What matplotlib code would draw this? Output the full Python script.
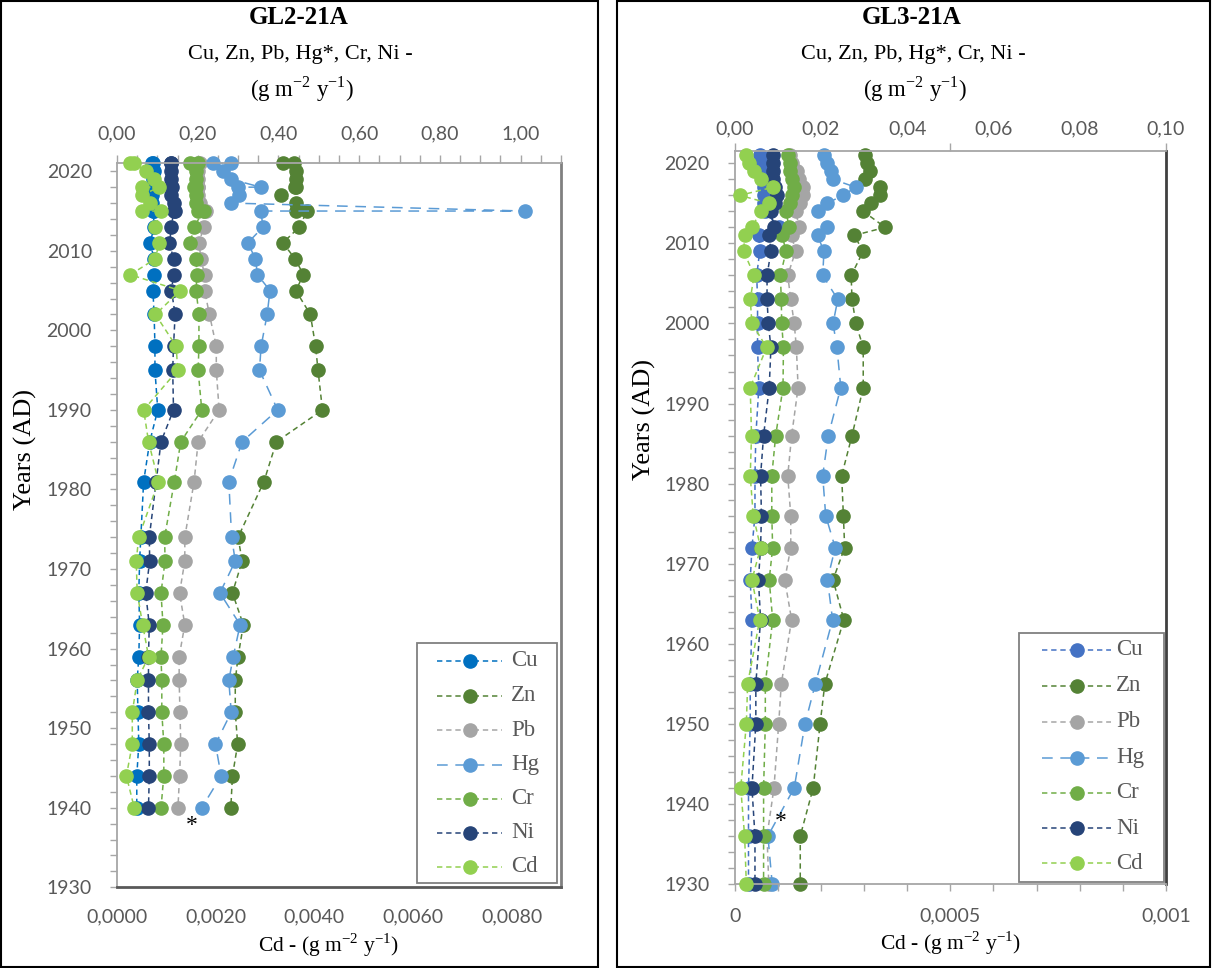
import matplotlib
matplotlib.use('Agg')
import matplotlib.pyplot as plt
from matplotlib.lines import Line2D
from matplotlib.patches import Rectangle
from matplotlib.transforms import Affine2D
from matplotlib.ticker import MultipleLocator, FixedLocator

W, H = 1212, 968

# ---- GL2-21A ----
years_gl2 = [2021, 2021, 2020, 2019, 2018, 2018, 2017, 2016, 2015, 2015, 2013, 2011, 2009, 2007,
             2005, 2002, 1998, 1995, 1990, 1986, 1981, 1974, 1971, 1967, 1963, 1959, 1956, 1952,
             1948, 1944, 1940]
cu_gl2 = [0.087, 0.090, 0.092, 0.090, 0.092, 0.090, 0.087, 0.087, 0.092, 0.090, 0.092, 0.082, 0.092,
          0.092, 0.089, 0.092, 0.094, 0.094, 0.101, 0.081, 0.066, 0.059, 0.056, 0.054, 0.056, 0.054,
          0.050, 0.052, 0.054, 0.049, 0.049]
zn_gl2 = [0.411, 0.438, 0.443, 0.443, 0.443, 0.440, 0.406, 0.443, 0.443, 0.471, 0.452, 0.411, 0.441,
          0.462, 0.443, 0.479, 0.492, 0.498, 0.509, 0.395, 0.364, 0.300, 0.310, 0.286, 0.313, 0.300,
          0.293, 0.293, 0.299, 0.286, 0.282]
pb_gl2 = [0.200, 0.205, 0.200, 0.200, 0.200, 0.200, 0.200, 0.205, 0.215, 0.220, 0.215, 0.203, 0.208,
          0.217, 0.217, 0.229, 0.246, 0.246, 0.253, 0.201, 0.191, 0.168, 0.168, 0.155, 0.168, 0.154,
          0.154, 0.156, 0.158, 0.155, 0.151]
hg_gl2 = [0.237, 0.283, 0.263, 0.283, 0.356, 0.299, 0.303, 0.283, 1.010, 0.356, 0.362, 0.324, 0.343,
          0.348, 0.379, 0.372, 0.357, 0.353, 0.398, 0.310, 0.277, 0.284, 0.293, 0.255, 0.305, 0.288,
          0.277, 0.283, 0.244, 0.258, 0.210]
cr_gl2 = [0.182, 0.200, 0.196, 0.196, 0.190, 0.196, 0.196, 0.196, 0.200, 0.215, 0.190, 0.182, 0.196,
          0.198, 0.196, 0.203, 0.203, 0.201, 0.210, 0.158, 0.142, 0.118, 0.119, 0.109, 0.114, 0.109,
          0.111, 0.111, 0.116, 0.116, 0.109]
ni_gl2 = [0.135, 0.135, 0.135, 0.135, 0.135, 0.137, 0.135, 0.140, 0.144, 0.140, 0.135, 0.130, 0.140,
          0.140, 0.135, 0.144, 0.140, 0.138, 0.140, 0.109, 0.097, 0.080, 0.081, 0.071, 0.080, 0.078,
          0.078, 0.078, 0.080, 0.080, 0.078]
cd_gl2 = [0.00027, 0.00035, 0.00058, 0.00074, 0.00051, 0.00085, 0.00051, 0.00066, 0.00051, 0.00089,
          0.00078, 0.00085, 0.00078, 0.00027, 0.00128, 0.00078, 0.00120, 0.00123, 0.00054, 0.00064,
          0.00084, 0.00044, 0.00039, 0.00041, 0.00052, 0.00064, 0.00041, 0.00031, 0.00031, 0.00019,
          0.00035]

# ---- GL3-21A ----
years_gl3 = [2021, 2020, 2019, 2018, 2017, 2016, 2015, 2014, 2012, 2011, 2009, 2006, 2003, 2000,
             1997, 1992, 1986, 1981, 1976, 1972, 1968, 1963, 1955, 1950, 1942, 1936, 1930]
cu_gl3 = [0.0058, 0.0060, 0.0062, 0.0065, 0.0067, 0.0067, 0.0067, 0.0071, 0.0102, 0.0056, 0.0058,
          0.0051, 0.0053, 0.0053, 0.0053, 0.0056, 0.0049, 0.0047, 0.0047, 0.0040, 0.0036, 0.0040,
          0.0036, 0.0036, 0.0032, 0.0032, 0.0032]
zn_gl3 = [0.0301, 0.0307, 0.0313, 0.0303, 0.0338, 0.0336, 0.0316, 0.0298, 0.0349, 0.0277, 0.0298,
          0.0270, 0.0272, 0.0281, 0.0298, 0.0298, 0.0272, 0.0248, 0.0252, 0.0255, 0.0228, 0.0253,
          0.0209, 0.0198, 0.0182, 0.0152, 0.0152]
pb_gl3 = [0.0128, 0.0132, 0.0145, 0.0150, 0.0158, 0.0158, 0.0152, 0.0141, 0.0150, 0.0132, 0.0141,
          0.0123, 0.0130, 0.0138, 0.0143, 0.0147, 0.0132, 0.0123, 0.0130, 0.0130, 0.0116, 0.0132,
          0.0108, 0.0102, 0.0091, 0.0075, 0.0079]
hg_gl3 = [0.0207, 0.0214, 0.0224, 0.0228, 0.0281, 0.0250, 0.0215, 0.0193, 0.0214, 0.0192, 0.0207,
          0.0204, 0.0239, 0.0228, 0.0237, 0.0246, 0.0217, 0.0204, 0.0211, 0.0233, 0.0215, 0.0227,
          0.0187, 0.0163, 0.0138, 0.0077, 0.0087]
cr_gl3 = [0.0123, 0.0128, 0.0128, 0.0132, 0.0137, 0.0132, 0.0128, 0.0119, 0.0126, 0.0110, 0.0119,
          0.0106, 0.0108, 0.0109, 0.0113, 0.0112, 0.0095, 0.0086, 0.0086, 0.0088, 0.0080, 0.0088,
          0.0071, 0.0071, 0.0067, 0.0067, 0.0067]
ni_gl3 = [0.0088, 0.0088, 0.0088, 0.0088, 0.0093, 0.0097, 0.0093, 0.0084, 0.0091, 0.0080, 0.0084,
          0.0075, 0.0075, 0.0078, 0.0084, 0.0080, 0.0067, 0.0060, 0.0062, 0.0060, 0.0055, 0.0060,
          0.0049, 0.0049, 0.0040, 0.0047, 0.0047]
cd_gl3 = [0.000027, 0.000032, 0.000045, 0.000060, 0.000088, 0.000012, 0.000080, 0.000060, 0.000040,
          0.000023, 0.000021, 0.000045, 0.000036, 0.000040, 0.000074, 0.000036, 0.000039, 0.000036,
          0.000043, 0.000060, 0.000040, 0.000058, 0.000030, 0.000027, 0.000014, 0.000023, 0.000027]

metals = ['Cu', 'Zn', 'Pb', 'Hg', 'Cr', 'Ni', 'Cd']

SERIF = 'Liberation Serif'
GREY = '#595959'
AXIS_GREY = '#A6A6A6'
SHORT = (3.5, 2.5)
LONG = (7, 5)

plt.rcParams['font.family'] = ['Lato', 'DejaVu Sans']

fig = plt.figure(figsize=(W / 100, H / 100), dpi=100)
# pixel coordinates measured from the top-left corner of the figure
px = Affine2D().scale(1 / W, -1 / H).translate(0, 1) + fig.transFigure


def style(name, cu_color):
    colors = {'Cu': cu_color, 'Zn': '#548235', 'Pb': '#A5A5A5', 'Hg': '#5B9BD5',
              'Cr': '#70AD47', 'Ni': '#264478', 'Cd': '#92D050'}
    return colors[name], (LONG if name == 'Hg' else SHORT)


def draw_series(ax, xs, ys, color, dashes):
    ax.plot(xs, ys, color=color, lw=1.1, dashes=dashes, marker='o', ms=9.5,
            mfc=color, mec=color, clip_on=False)


def panel(rect, years, top_series, cd, cu_color, ymax):
    ax = fig.add_axes(rect)
    for name, vals in zip(metals[:-1], top_series):
        c, d = style(name, cu_color)
        draw_series(ax, vals, years, c, d)
    ax2 = ax.twiny()
    c, d = style('Cd', cu_color)
    draw_series(ax2, cd, years, c, d)

    ax.xaxis.tick_top()
    ax2.xaxis.tick_bottom()
    ax.set_ylim(1930, ymax)
    ax.yaxis.set_major_locator(MultipleLocator(10))
    ax.yaxis.set_minor_locator(MultipleLocator(2))
    ax.tick_params(axis='y', which='both', direction='out', length=5, width=1,
                   color=AXIS_GREY, labelcolor=GREY, labelsize=14, pad=13)
    for s in ax2.spines.values():
        s.set_visible(False)
    for side in ['left', 'top']:
        ax.spines[side].set_color(AXIS_GREY)
        ax.spines[side].set_linewidth(1.3)
    return ax, ax2


def legend(box, rows, hx, tx, cu_color):
    x0, y0, x1, y1 = box
    fig.add_artist(Rectangle((x0, y0), x1 - x0, y1 - y0, transform=px, fc='white',
                             ec='#808080', lw=1.3, zorder=5))
    for name, y in zip(metals, rows):
        c, d = style(name, cu_color)
        fig.add_artist(Line2D([hx[0], (hx[0] + hx[1]) / 2, hx[1]], [y, y, y], transform=px,
                              color=c, lw=1.1, dashes=d, marker='o', ms=9.5, mfc=c, mec=c,
                              markevery=[1], zorder=6))
        fig.text(tx, y, name, transform=px, ha='left', va='center', family=SERIF,
                 fontsize=16.5, color=GREY, zorder=6)


def headings(cx, title):
    fig.text(cx, 18, title, transform=px, ha='center', va='center', family=SERIF,
             fontweight='bold', fontsize=18)
    fig.text(cx + 1, 55, 'Cu, Zn, Pb, Hg*, Cr, Ni -', transform=px, ha='center', va='center',
             family=SERIF, fontsize=16)
    fig.text(cx + 3, 89, r'(g m$^{\mathregular{-2}}$ y$^{\mathregular{-1}}$)', transform=px,
             ha='center', va='center', family=SERIF, fontsize=16.5)


cd_label = r'Cd - (g m$^{\mathregular{-2}}$ y$^{\mathregular{-1}}$)'

# ---- left panel ----
ax, ax2 = panel([117 / W, 1 - 887.3 / H, 444 / W, 724 / H], years_gl2,
                [cu_gl2, zn_gl2, pb_gl2, hg_gl2, cr_gl2, ni_gl2], cd_gl2, '#0070C0', 2021)
ax.set_xlim(0, 1.1)
ax.set_xticks([0, 0.2, 0.4, 0.6, 0.8, 1.0], ['0,00', '0,20', '0,40', '0,60', '0,80', '1,00'])
ax.xaxis.set_minor_locator(MultipleLocator(0.05))
ax.tick_params(axis='x', which='both', direction='out', length=6, width=1, color=AXIS_GREY,
               labelcolor=GREY, labelsize=14, pad=9)
ax2.set_xlim(0, 0.009)
ax2.set_xticks([0, 0.002, 0.004, 0.006, 0.008],
               ['0,0000', '0,0020', '0,0040', '0,0060', '0,0080'])
ax2.tick_params(axis='x', length=0, labelcolor=GREY, labelsize=14, pad=15)
ax.spines['right'].set_color('#808080')
ax.spines['right'].set_linewidth(2)
ax.spines['bottom'].set_color('#595959')
ax.spines['bottom'].set_linewidth(2)
ax.text(0.185, 1937.8, '*', ha='center', va='center', family=SERIF, fontsize=17)

# ---- right panel ----
bx, bx2 = panel([734.7 / W, 1 - 884 / H, 431.3 / W, 732.7 / H], years_gl3,
                [cu_gl3, zn_gl3, pb_gl3, hg_gl3, cr_gl3, ni_gl3], cd_gl3, '#4472C4', 2021.5)
bx.set_xlim(0, 0.1)
bx.set_xticks([0, 0.02, 0.04, 0.06, 0.08, 0.1], ['0,00', '0,02', '0,04', '0,06', '0,08', '0,10'])
bx.xaxis.set_minor_locator(FixedLocator([0, 0.05, 0.1]))
bx.xaxis.remove_overlapping_locs = False
bx.tick_params(axis='x', which='major', length=0, labelcolor=GREY, labelsize=14, pad=10)
bx.tick_params(axis='x', which='minor', direction='out', length=6, width=1, color=AXIS_GREY)
bx2.set_xlim(0, 0.001)
bx2.set_xticks([0, 0.0005, 0.001], ['0', '0,0005', '0,001'])
bx2.xaxis.set_minor_locator(MultipleLocator(0.0001))
bx2.tick_params(axis='x', which='both', direction='out', length=5, width=1, color=AXIS_GREY,
                labelcolor=GREY, labelsize=14, pad=12)
bx.spines['right'].set_color('#404040')
bx.spines['right'].set_linewidth(2)
bx.spines['bottom'].set_color(AXIS_GREY)
bx.spines['bottom'].set_linewidth(1.3)
bx.text(0.0106, 1937.8, '*', ha='center', va='center', family=SERIF, fontsize=17)

# headings, axis titles, legends and panel frames
headings(299, 'GL2-21A')
headings(912, 'GL3-21A')
fig.text(25, 450, 'Years (AD)', transform=px, rotation=90, ha='center', va='center',
         family=SERIF, fontsize=19)
fig.text(644, 420, 'Years (AD)', transform=px, rotation=90, ha='center', va='center',
         family=SERIF, fontsize=19)
fig.text(328.5, 945, cd_label, transform=px, ha='center', va='center', family=SERIF, fontsize=15.5)
fig.text(951, 943, cd_label, transform=px, ha='center', va='center', family=SERIF, fontsize=15.5)

legend((417, 643, 557, 883), [660.7, 695.5, 730, 764.5, 798.5, 832.5, 867], (437, 502), 511,
       '#0070C0')
legend((1019.4, 632.7, 1163.6, 882), [649.5, 685.5, 721.5, 757.5, 792.5, 828.3, 863.3],
       (1042, 1111), 1116, '#4472C4')

fig.add_artist(Rectangle((1, 1), 597, 966, transform=px, fill=False, ec='black', lw=1.5))
fig.add_artist(Rectangle((617, 1), 593, 966, transform=px, fill=False, ec='black', lw=1.5))

fig.savefig('out.png', dpi=100)
